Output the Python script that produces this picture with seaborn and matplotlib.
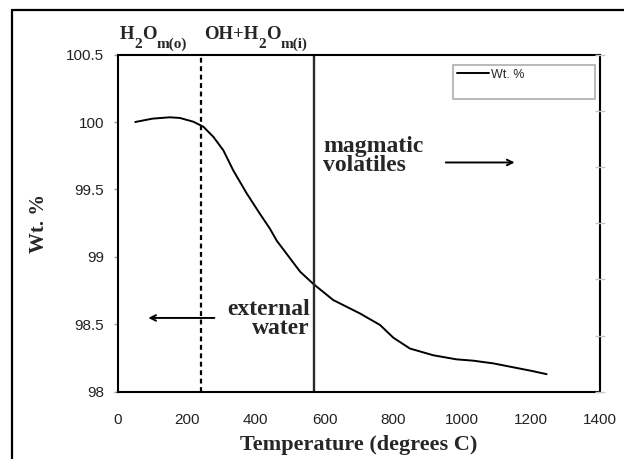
import matplotlib
matplotlib.use("Agg")
import matplotlib.pyplot as plt
from matplotlib.lines import Line2D
import numpy as np
import pandas as pd
import seaborn as sns

# ---- data ----
temperature = [50, 100, 150, 180, 219, 248, 277, 306, 335, 374, 412, 441, 461, 529,
               567, 625, 703, 761, 800, 848, 916, 983, 1032, 1090, 1150, 1200, 1245]
wt_percent = [100.00, 100.025, 100.035, 100.03, 100.002, 99.965, 99.89, 99.79, 99.64,
              99.47, 99.32, 99.21, 99.12, 98.89, 98.80, 98.68, 98.58, 98.495, 98.40,
              98.32, 98.27, 98.24, 98.23, 98.21, 98.18, 98.155, 98.13]
x_ticks = [0, 200, 400, 600, 800, 1000, 1200, 1400]
y_ticks = [98, 98.5, 99, 99.5, 100, 100.5]
y_tick_labels = ["98", "98.5", "99", "99.5", "100", "100.5"]
dashed_boundary = 240
solid_boundary = 570
series_label = "Wt. %"
top_label_1 = [("H", False), ("2", True), ("O", False), ("m(o)", True)]
top_label_2 = [("OH+H", False), ("2", True), ("O", False), ("m(i)", True)]

sns.set_style("white")
plt.rcParams["font.family"] = ["Liberation Sans", "DejaVu Sans"]

W, H = 624, 459
fig = plt.figure(figsize=(W / 100, H / 100), dpi=100)
ax = fig.add_axes([118 / W, 1 - 391.7 / H, 482 / W, 337.1 / H])

df = pd.DataFrame({"Temperature": temperature, "Wt": wt_percent})
sns.lineplot(data=df, x="Temperature", y="Wt", ax=ax, color="black", linewidth=1.4,
             sort=True, legend=False)

ax.axvline(dashed_boundary, color="black", linewidth=1.6, linestyle=(0, (2.2, 1.6)))
ax.axvline(solid_boundary, color="#2a2a2a", linewidth=1.7)

ax.set_xlim(0, 1400)
ax.set_ylim(98, 100.5)
ax.set_xticks(x_ticks)
ax.set_xticklabels([str(v) for v in x_ticks])
ax.set_yticks(y_ticks)
ax.set_yticklabels(y_tick_labels)

for s in ax.spines.values():
    s.set_color("black")
    s.set_linewidth(1.5)

ax.tick_params(axis="both", which="major", direction="out", length=3, width=1,
               color="#999999", labelsize=11, labelcolor="#222222")
ax.tick_params(axis="x", pad=12)
ax.tick_params(axis="y", pad=7)

serif = ["Liberation Serif", "DejaVu Serif"]
ax.set_xlabel("Temperature (degrees C)", fontsize=16, fontweight="bold",
              family=serif, labelpad=6)
ax.set_ylabel("Wt. %", fontsize=15, fontweight="bold", family=serif, labelpad=12)

# secondary faint ticks on right
ax2 = ax.twinx()
ax2.set_ylim(0, 6)
ax2.set_yticks(range(7))
ax2.tick_params(axis="y", direction="inout", length=7, width=1, color="#c8c8c8",
                labelright=False)
for s in ax2.spines.values():
    s.set_visible(False)

# legend
handles = [Line2D([], [], color="black", linewidth=1.4),
           Line2D([], [], color="white", linewidth=0)]
leg = ax.legend(handles, [series_label, " "], loc="upper left",
                bbox_to_anchor=(0.695, 0.871, 0.2946, 0.098), mode="expand",
                borderaxespad=0, fontsize=9, frameon=True, fancybox=False,
                handlelength=2.6, handletextpad=0.15, borderpad=0.3,
                labelspacing=0.2)
leg.get_frame().set_edgecolor("#999999")
leg.get_frame().set_linewidth(1.2)
leg.set_zorder(5)

# top labels with subscripts, composed piece by piece
renderer = fig.canvas.get_renderer()


def compose(pieces, x_px, base_px):
    x = x_px
    for txt, sub in pieces:
        size = 11 if sub else 13.5
        dy = 9 if sub else 0
        t = fig.text(x / W, 1 - (base_px + dy) / H, txt, ha="left", va="baseline",
                     fontsize=size, fontweight="bold", family=serif)
        bb = t.get_window_extent(renderer)
        x += bb.width


compose(top_label_1, 120, 39)
compose(top_label_2, 204, 39)

# annotations
ax.text(595, 99.75, "magmatic\nvolatiles", ha="left", va="center", fontsize=17,
        fontweight="bold", family=serif, linespacing=0.9)
ax.annotate("", xy=(1160, 99.70), xytext=(944, 99.70),
            arrowprops=dict(arrowstyle="->", color="black", lw=1.4))
ax.text(557, 98.54, "external\nwater", ha="right", va="center", fontsize=17,
        fontweight="bold", family=serif, linespacing=0.9)
ax.annotate("", xy=(80, 98.547), xytext=(288, 98.547),
            arrowprops=dict(arrowstyle="->", color="black", lw=1.4))

# outer frame lines (figure border)
fig.add_artist(Line2D([12 / W, 12 / W], [0, 1 - 10 / H], transform=fig.transFigure,
                      color="black", linewidth=1.6))
fig.add_artist(Line2D([12 / W, 1], [1 - 10 / H, 1 - 10 / H], transform=fig.transFigure,
                      color="black", linewidth=1.6))

fig.savefig("out.png", dpi=100)
